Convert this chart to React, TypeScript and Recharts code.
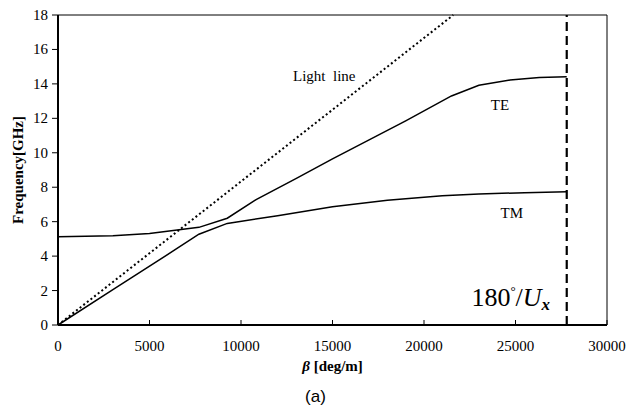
import { Label, Line, LineChart, ReferenceArea, ReferenceDot, ReferenceLine, XAxis, YAxis } from 'recharts';

// beta [deg/m] vs frequency [GHz]
const teBeta = [0, 3000, 5000, 7700, 9250, 10850, 13000, 15000, 17000, 19000, 21500, 23000, 24700, 26300, 27800];
const teFreq = [5.12, 5.18, 5.32, 5.67, 6.2, 7.3, 8.5, 9.65, 10.75, 11.85, 13.3, 13.92, 14.22, 14.37, 14.42];

const tmBeta = [0, 3000, 6400, 7700, 9250, 12000, 15000, 18000, 21000, 23000, 25500, 27800];
const tmFreq = [0, 2.05, 4.37, 5.27, 5.9, 6.35, 6.86, 7.25, 7.5, 7.61, 7.68, 7.74];

const lightBeta = [0, 21600];
const lightFreq = [0, 18];

const xTicks = [0, 5000, 10000, 15000, 20000, 25000, 30000];
const yTicks = [0, 2, 4, 6, 8, 10, 12, 14, 16, 18];
const cutoffBeta = 27800;

const toRows = (b: number[], f: number[]) => b.map((v, i) => ({ b: v, f: f[i] }));
const teData = toRows(teBeta, teFreq);
const tmData = toRows(tmBeta, tmFreq);
const lightData = toRows(lightBeta, lightFreq);

const serif = 'Liberation Serif';

function XTick(props: any) {
  const { x, y, payload } = props;
  return (
    <g>
      <line x1={x} x2={x} y1={y} y2={y - 5} stroke="#000" strokeWidth={1} />
      <text x={x} y={y + 26} textAnchor="middle" style={{ fontFamily: serif, fontSize: 15 }} fill="#000">
        {payload.value}
      </text>
    </g>
  );
}

function YTick(props: any) {
  const { x, y, payload } = props;
  return (
    <text x={x} y={y + 5} textAnchor="end" style={{ fontFamily: serif, fontSize: 15 }} fill="#000">
      {payload.value}
    </text>
  );
}

function XTitle(props: any) {
  const vb = props.viewBox;
  const cx = vb.x + vb.width / 2;
  return (
    <g>
      <text x={cx} y={371} textAnchor="middle" style={{ fontFamily: serif, fontSize: 15, fontWeight: 'bold' }} fill="#000">
        <tspan style={{ fontStyle: 'italic' }}>β</tspan> [deg/m]
      </text>
      <text x={cx - 17} y={402} textAnchor="middle" style={{ fontFamily: 'Liberation Sans', fontSize: 17 }} fill="#000">
        (a)
      </text>
    </g>
  );
}

function YTitle(props: any) {
  const vb = props.viewBox;
  const cy = vb.y + vb.height / 2;
  return (
    <text x={23} y={cy} transform={`rotate(-90 23 ${cy})`} textAnchor="middle" style={{ fontFamily: serif, fontSize: 15, fontWeight: 'bold' }} fill="#000">
      Frequency[GHz]
    </text>
  );
}

function CutoffLabel(props: any) {
  const vb = props.viewBox;
  return (
    <text x={vb.x - 2} y={vb.y + 9} textAnchor="middle" style={{ fontFamily: serif, fontSize: 26 }} fill="#000">
      180<tspan style={{ fontSize: 13 }} dy={-11}>°</tspan>
      <tspan dy={11}>/</tspan>
      <tspan style={{ fontStyle: 'italic' }}>U</tspan>
      <tspan style={{ fontStyle: 'italic', fontWeight: 'bold', fontSize: 17 }} dy={4}>x</tspan>
    </text>
  );
}

function textLabel(value: string) {
  return (props: any) => {
    const vb = props.viewBox;
    return (
      <text x={vb.x} y={vb.y + 5} textAnchor="middle" style={{ fontFamily: serif, fontSize: 15 }} fill="#000">
        {value}
      </text>
    );
  };
}

export default function App() {
  return (
    <div style={{ position: 'absolute', left: 0, top: 0, background: '#fff' }}>
      <LineChart width={629} height={407} margin={{ top: 15, right: 22, bottom: 52, left: 0 }}>
        <XAxis
          type="number"
          dataKey="b"
          domain={[0, 30000]}
          ticks={xTicks}
          tick={<XTick />}
          tickLine={false}
          tickSize={0}
          tickMargin={0}
          height={30}
          axisLine={{ stroke: '#000', strokeWidth: 2 }}
        >
          <Label content={<XTitle />} />
        </XAxis>
        <YAxis
          type="number"
          dataKey="f"
          domain={[0, 18]}
          ticks={yTicks}
          width={58}
          tickSize={6}
          tickMargin={4}
          tick={<YTick />}
          tickLine={{ stroke: '#000' }}
          axisLine={{ stroke: '#000', strokeWidth: 2 }}
        >
          <Label content={<YTitle />} />
        </YAxis>
        <ReferenceArea x1={0} x2={30000} y1={0} y2={18} fill="none" stroke="#000" strokeWidth={1} />
        <Line data={lightData} dataKey="f" stroke="#000" strokeWidth={2} strokeDasharray="2 2.6" dot={false} isAnimationActive={false} />
        <Line data={teData} dataKey="f" stroke="#000" strokeWidth={1.5} dot={false} isAnimationActive={false} />
        <Line data={tmData} dataKey="f" stroke="#000" strokeWidth={1.5} dot={false} isAnimationActive={false} />
        <ReferenceLine x={cutoffBeta} stroke="#000" strokeWidth={2.2} strokeDasharray="9 5" />
        <ReferenceDot x={14550} y={14.45} r={0} fill="none" stroke="none" label={textLabel('Light\u00a0\u00a0line')} />
        <ReferenceDot x={24150} y={12.8} r={0} fill="none" stroke="none" label={textLabel('TE')} />
        <ReferenceDot x={24800} y={6.5} r={0} fill="none" stroke="none" label={textLabel('TM')} />
        <ReferenceDot x={24850} y={1.6} r={0} fill="none" stroke="none" label={<CutoffLabel />} />
      </LineChart>
    </div>
  );
}
